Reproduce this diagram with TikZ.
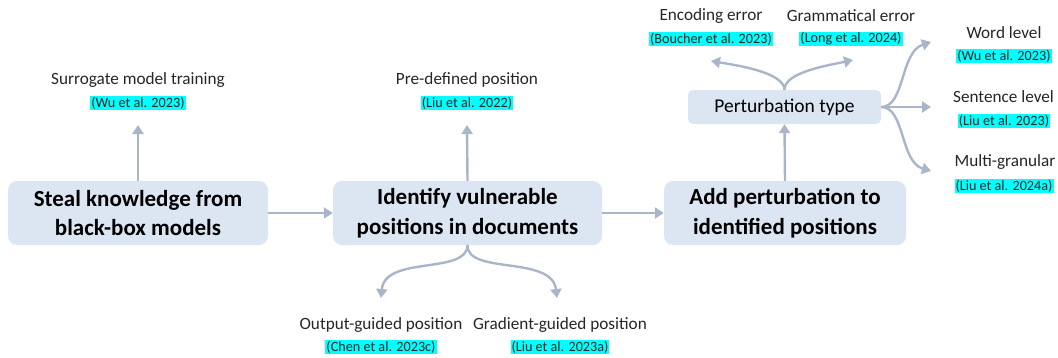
\documentclass[tikz,border=0pt]{standalone}
\usepackage{fontspec}
\setmainfont{Carlito}
\usetikzlibrary{arrows.meta}
\definecolor{boxfill}{HTML}{DCE6F2}
\definecolor{arrowc}{HTML}{A9B6C9}
\definecolor{citec}{HTML}{00FFFF}
\tikzset{
  mainbox/.style={fill=boxfill, rounded corners=9pt, minimum width=#1, minimum height=64pt, align=center, font=\fontsize{23}{29.5}\selectfont\bfseries, text=black},
  ptbox/.style={fill=boxfill, rounded corners=5pt, minimum width=193pt, minimum height=34pt, font=\fontsize{19.5}{22}\selectfont},
  lab/.style={font=\fontsize{17.2}{20}\selectfont, inner sep=0pt, text=black!85},
  cite/.style={font=\fontsize{14.2}{16}\selectfont, fill=citec, inner sep=1pt, text=black!85},
  conn/.style={draw=arrowc, line width=2.4pt, -{Triangle[length=9pt,width=11pt]}},
}
\begin{document}
\begin{tikzpicture}[x=1pt,y=-1pt]
\useasboundingbox (0,0) rectangle (1058,357);
% main boxes
\node[mainbox=260pt] (b1) at (138,213) {Steal knowledge from\\black-box models};
\node[mainbox=269pt] (b2) at (467.5,213) {Identify vulnerable\\positions in documents};
\node[mainbox=242pt] (b3) at (785,213) {Add perturbation to\\identified positions};
\node[ptbox] (pt) at (784.5,107) {Perturbation type};
% labels
\node[lab] (l1) at (138,80) {Surrogate model training};
\node[cite] (c1) at (138,103) {(Wu et al. 2023)};
\node[lab] (l2) at (467,80) {Pre-defined position};
\node[cite] (c2) at (467,103) {(Liu et al. 2022)};
\node[lab] (l3) at (381,325) {Output-guided position};
\node[cite] (c3) at (381,347) {(Chen et al. 2023c)};
\node[lab] (l4) at (560,325) {Gradient-guided position};
\node[cite] (c4) at (560,347) {(Liu et al. 2023a)};
\node[lab] (l5) at (711,16) {Encoding error};
\node[cite] (c5) at (711,39) {(Boucher et al. 2023)};
\node[lab] (l6) at (851,16) {Grammatical error};
\node[cite] (c6) at (851,39) {(Long et al. 2024)};
\node[lab] (l7) at (1004,33) {Word level};
\node[cite] (c7) at (1004,56) {(Wu et al. 2023)};
\node[lab] (l8) at (1003.5,97) {Sentence level};
\node[cite] (c8) at (1004,121) {(Liu et al. 2023)};
\node[lab] (l9) at (1005,162) {Multi-granular};
\node[cite] (c9) at (1004,186) {(Liu et al. 2024a)};
% arrow end coordinates
\coordinate (e1) at (138,125);
\coordinate (e2) at (467,125);
\coordinate (e3) at (381,298);
\coordinate (e4) at (557,298);
\coordinate (e5) at (711,61);
\coordinate (e6) at (853,60);
\coordinate (e7) at (931,42);
\coordinate (e8) at (931,107);
\coordinate (e9) at (931,171);
% connectors
\draw[conn] (b1.east) -- (b2.west);
\draw[conn] (b2.east) -- (b3.west);
\draw[conn] (b1.north) -- (e1);
\draw[conn] (b2.north) -- (e2);
\draw[conn] (b3.north) -- (pt.south);
\draw[conn] (b2.south) .. controls (467,275) and (385,255) .. (e3);
\draw[conn] (b2.south) .. controls (467,275) and (552,255) .. (e4);
\draw[conn] (pt.north) .. controls (784,72) and (735,65) .. (e5);
\draw[conn] (pt.north) .. controls (784,72) and (830,65) .. (e6);
\draw[conn] (pt.east) -- (e8);
\draw[conn] (pt.east) .. controls (905,107) and (900,52) .. (e7);
\draw[conn] (pt.east) .. controls (905,107) and (900,162) .. (e9);
\end{tikzpicture}
\end{document}
